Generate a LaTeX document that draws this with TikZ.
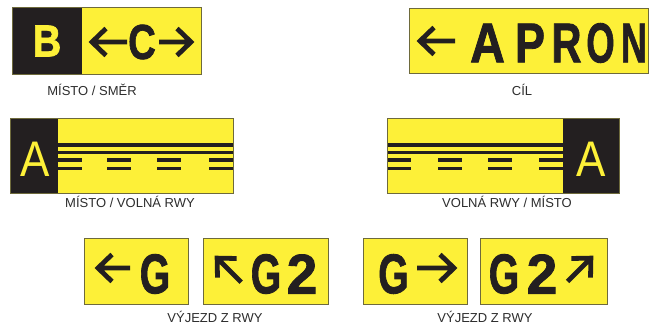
\documentclass[tikz,border=0pt]{standalone}
\usepackage{fontspec}
\setmainfont{Liberation Sans}
\newfontfamily\signfont[FakeBold=1.6]{Liberation Sans Bold}
\definecolor{signyellow}{RGB}{253,240,56}
\definecolor{signblack}{RGB}{35,31,32}
\definecolor{signedge}{RGB}{110,106,60}
\definecolor{captiongray}{RGB}{45,45,45}
\tikzset{
  pics/arrowglyph/.style={code={
    \draw[signblack,line width=4.8pt,line join=miter,line cap=butt]
      (-#1,0) -- (-3,0)
      (-17,-13.5) -- (-3,0) -- (-17,13.5);
  }},
}
\begin{document}
\begin{tikzpicture}[x=1pt,y=-1pt,
  panel/.style={fill=signyellow},
  inlay/.style={fill=signblack},
  frame/.style={draw=signedge,line width=0.7pt},
  glyph/.style={inner sep=0pt,text=signblack,font=\signfont\fontsize{56}{56}\selectfont},
  lightglyph/.style={inner sep=0pt,text=signyellow,font=\fontsize{50}{50}\selectfont},
  caption/.style={inner sep=0pt,anchor=base,text=captiongray,font=\fontsize{13}{13}\selectfont},
  stripe/.style={draw=signblack,line width=3.8pt},
]
\useasboundingbox (0,0) rectangle (653,327);
\fill[white] (0,0) rectangle (653,327);

% --- location / direction sign
\fill[inlay] (12,7) rectangle (82,74);
\fill[panel] (82,7) rectangle (201,74);
\draw[frame] (12,7) rectangle (201,74);
\node[glyph,text=signyellow,font=\signfont\fontsize{45}{45}\selectfont] (b) at (47,41) {\scalebox{0.88}[1]{B}};
\node[glyph,font=\signfont\fontsize{49}{49}\selectfont] (c) at (142,42) {\scalebox{0.78}[1]{C}};
\pic[rotate=180] at (89,42) {arrowglyph=38};
\pic at (194,42) {arrowglyph=35};
\node[caption] (cap1) at (92,95) {MÍSTO / SMĚR};

% --- destination sign
\fill[panel] (409,8) rectangle (648,73);
\draw[frame] (409,8) rectangle (648,73);
\pic[rotate=180] at (417,41) {arrowglyph=38};
\node[glyph] (apA) at (487.5,43) {\scalebox{0.86}[1]{A}};
\node[glyph] (apP) at (530,43) {\scalebox{0.8}[1]{P}};
\node[glyph] (apR) at (566.5,43) {\scalebox{0.74}[1]{R}};
\node[glyph] (apO) at (600.5,43) {\scalebox{0.65}[1]{O}};
\node[glyph] (apN) at (634,43) {\scalebox{0.65}[1]{N}};
\node[caption] (cap2) at (522,95) {CÍL};

% --- location / runway vacated (left)
\fill[inlay] (10,118) rectangle (58,193);
\fill[panel] (58,118) rectangle (233,193);
\draw[signblack,line width=4.2pt] (58,145) -- (233,145);
\draw[signblack,line width=3.2pt] (58,152.5) -- (233,152.5);
\foreach \x in {58,107,157,209}{
  \draw[stripe] (\x,160) -- ++(24,0);
  \draw[stripe] (\x,168.5) -- ++(24,0);
}
\draw[frame] (10,118) rectangle (233,193);
\node[lightglyph] (aleft) at (35.5,159) {\scalebox{0.88}[1]{A}};
\node[caption] (cap3) at (130,207) {MÍSTO / VOLNÁ RWY};

% --- runway vacated / location (right)
\fill[panel] (387,118) rectangle (563,193);
\fill[inlay] (563,118) rectangle (619,193);
\draw[signblack,line width=4.2pt] (387,145) -- (563,145);
\draw[signblack,line width=3.2pt] (387,152.5) -- (563,152.5);
\foreach \x in {387,438,488,539}{
  \draw[stripe] (\x,160) -- ++(24,0);
  \draw[stripe] (\x,168.5) -- ++(24,0);
}
\draw[frame] (387,118) rectangle (619,193);
\node[lightglyph] (aright) at (591,159) {\scalebox{0.88}[1]{A}};
\node[caption] (cap4) at (507,207) {VOLNÁ RWY / MÍSTO};

% --- runway exit signs, left pair
\fill[panel] (84,238) rectangle (188,304);
\draw[frame] (84,238) rectangle (188,304);
\pic[rotate=180] at (95,268) {arrowglyph=35};
\node[glyph] (g1) at (155,274) {\scalebox{0.7}[1]{G}};

\fill[panel] (203,238) rectangle (328,304);
\draw[frame] (203,238) rectangle (328,304);
\pic[rotate=135] at (215,256) {arrowglyph=37};
\node[glyph] (g2) at (266,274) {\scalebox{0.7}[1]{G}};
\node[glyph] (n2) at (302,274) {\scalebox{0.98}[1]{2}};
\node[caption] (cap5) at (215,322) {VÝJEZD Z RWY};

% --- runway exit signs, right pair
\fill[panel] (363,238) rectangle (467,304);
\draw[frame] (363,238) rectangle (467,304);
\node[glyph] (g3) at (393.5,274) {\scalebox{0.7}[1]{G}};
\pic at (457,268) {arrowglyph=40};

\fill[panel] (480,238) rectangle (607,304);
\draw[frame] (480,238) rectangle (607,304);
\node[glyph] (g4) at (504,274) {\scalebox{0.7}[1]{G}};
\node[glyph] (n4) at (542,274) {\scalebox{0.98}[1]{2}};
\pic[rotate=45] at (593,256) {arrowglyph=36};
\node[caption] (cap6) at (485,322) {VÝJEZD Z RWY};
\end{tikzpicture}
\end{document}
